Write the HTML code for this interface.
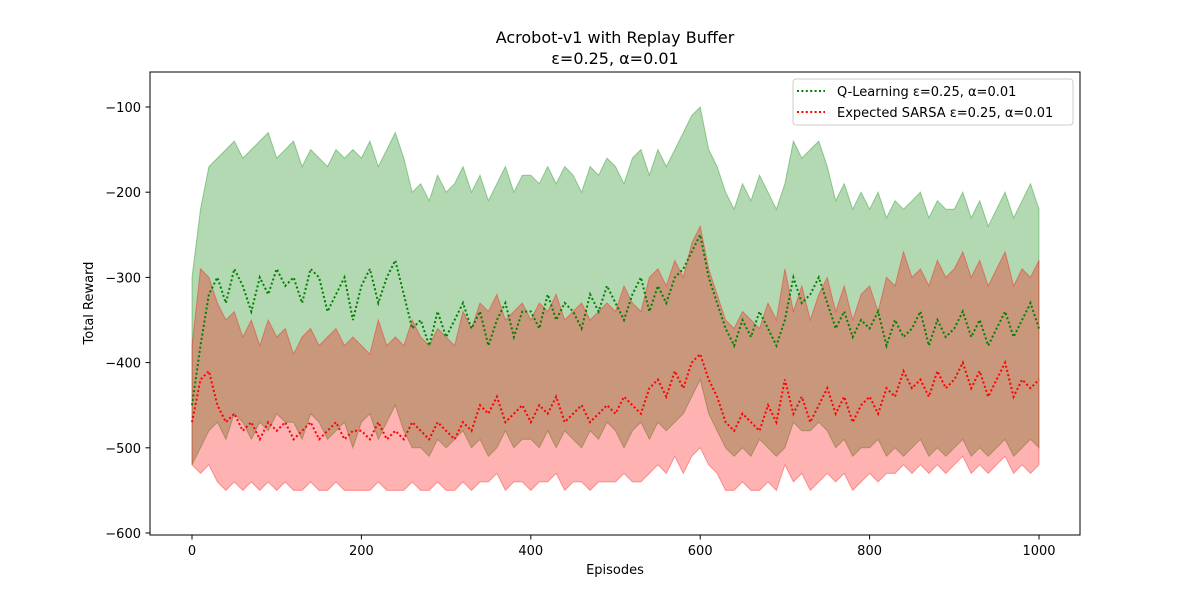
<!DOCTYPE html>
<html><head><meta charset="utf-8"><style>
body{margin:0;background:#fff;}
svg text{font-family:"DejaVu Sans","Liberation Sans",sans-serif;}
</style></head><body>
<svg id="chart" width="1200" height="600" viewBox="0 0 1200 600" xmlns="http://www.w3.org/2000/svg">
<rect width="1200" height="600" fill="#fff"/>
<text x="615" y="43" font-size="16" text-anchor="middle">Acrobot-v1 with Replay Buffer</text>
<text x="615" y="64" font-size="16" text-anchor="middle">ε=0.25, α=0.01</text>
<g id="plot"></g>
<rect x="150" y="72" width="930" height="463" fill="none" stroke="#000" stroke-width="1"/>
<g id="axes"></g>
<text x="615" y="574" font-size="13" text-anchor="middle">Episodes</text>
<text x="93" y="303" font-size="13" text-anchor="middle" transform="rotate(-90 93 303)">Total Reward</text>
<g>
<rect x="793" y="79" width="280" height="46" rx="3" fill="#fff" fill-opacity="0.8" stroke="#ccc"/>
<line x1="797" y1="91" x2="825" y2="91" stroke="green" stroke-width="2" stroke-dasharray="2,2.4"/>
<text x="837" y="96" font-size="13">Q-Learning ε=0.25, α=0.01</text>
<line x1="797" y1="112" x2="825" y2="112" stroke="red" stroke-width="2" stroke-dasharray="2,2.4"/>
<text x="837" y="117" font-size="13">Expected SARSA ε=0.25, α=0.01</text>
</g>
</svg>
<script>
const episodes = [];
for (let i = 0; i <= 100; i++) episodes.push(i * 10);
const xTicks = [0, 200, 400, 600, 800, 1000];
const yTicks = [-600, -500, -400, -300, -200, -100];
const gMean = [-450,-380,-320,-300,-330,-290,-310,-340,-300,-320,
-290,-310,-300,-330,-290,-300,-340,-320,-300,-350,
-310,-290,-330,-300,-280,-320,-360,-350,-380,-340,
-370,-350,-330,-360,-340,-380,-350,-330,-370,-340,
-340,-360,-320,-350,-330,-340,-360,-320,-340,-310,
-330,-350,-320,-300,-340,-310,-330,-300,-290,-270,
-250,-300,-330,-360,-380,-350,-370,-340,-360,-380,
-350,-300,-330,-320,-300,-330,-360,-340,-370,-350,
-360,-340,-380,-350,-370,-360,-340,-380,-350,-370,
-360,-340,-370,-350,-380,-360,-340,-370,-350,-330,-360];
const gHi = [-300,-220,-170,-160,-150,-140,-160,-150,-140,-130,
-160,-150,-140,-170,-150,-160,-170,-150,-160,-150,
-160,-140,-170,-150,-130,-160,-200,-190,-210,-180,
-200,-190,-170,-200,-180,-210,-190,-170,-200,-180,
-180,-190,-170,-190,-170,-180,-200,-170,-180,-160,
-170,-190,-160,-150,-180,-150,-170,-150,-130,-110,
-100,-150,-170,-200,-220,-190,-210,-180,-200,-220,
-190,-140,-160,-150,-140,-170,-210,-190,-220,-200,
-220,-200,-230,-210,-220,-210,-200,-230,-210,-220,
-220,-200,-230,-210,-240,-220,-200,-230,-210,-190,-220];
const gLo = [-520,-500,-480,-470,-490,-460,-470,-490,-470,-480,
-460,-470,-470,-490,-460,-470,-490,-480,-470,-500,
-470,-460,-490,-470,-450,-480,-500,-500,-510,-490,
-500,-490,-480,-500,-490,-510,-500,-480,-500,-490,
-490,-500,-480,-500,-480,-490,-500,-480,-490,-470,
-480,-500,-480,-470,-490,-470,-480,-470,-460,-440,
-420,-460,-480,-500,-510,-500,-510,-490,-500,-510,
-500,-470,-480,-480,-470,-480,-500,-490,-510,-500,
-500,-490,-510,-500,-510,-500,-490,-510,-500,-510,
-500,-490,-510,-500,-510,-500,-490,-510,-500,-490,-500];
const rMean = [-470,-420,-410,-450,-470,-460,-480,-470,-490,-470,
-480,-470,-490,-480,-470,-490,-480,-470,-490,-480,
-480,-490,-470,-490,-480,-490,-470,-480,-490,-470,
-480,-490,-470,-480,-450,-460,-440,-470,-460,-450,
-470,-450,-460,-440,-470,-460,-450,-470,-460,-450,
-460,-440,-450,-460,-430,-420,-440,-410,-430,-400,
-390,-420,-440,-470,-480,-460,-470,-480,-450,-470,
-420,-460,-440,-470,-450,-430,-460,-440,-470,-450,
-440,-460,-430,-440,-410,-430,-420,-440,-410,-430,
-420,-400,-430,-410,-440,-420,-400,-440,-420,-430,-420];
const rHi = [-380,-290,-300,-330,-350,-340,-370,-350,-380,-350,
-370,-360,-390,-370,-360,-380,-370,-360,-380,-370,
-380,-390,-350,-380,-370,-380,-350,-370,-380,-360,
-370,-380,-340,-360,-330,-340,-320,-350,-340,-330,
-350,-330,-340,-320,-350,-340,-330,-350,-340,-330,
-340,-310,-330,-340,-300,-290,-310,-280,-300,-260,
-240,-290,-320,-350,-360,-340,-350,-360,-330,-350,
-290,-340,-310,-350,-320,-300,-340,-310,-350,-320,
-310,-340,-300,-310,-270,-300,-290,-310,-280,-300,
-290,-270,-300,-280,-310,-290,-270,-310,-290,-300,-280];
const rLo = [-520,-530,-520,-540,-550,-540,-550,-540,-550,-540,
-550,-540,-550,-550,-540,-550,-550,-540,-550,-550,
-550,-550,-540,-550,-550,-550,-540,-550,-550,-540,
-550,-550,-540,-550,-540,-540,-530,-550,-540,-540,
-550,-540,-540,-530,-550,-540,-540,-550,-540,-540,
-540,-530,-540,-540,-530,-520,-530,-510,-530,-510,
-500,-520,-530,-550,-550,-540,-550,-550,-540,-550,
-520,-540,-530,-550,-540,-530,-540,-530,-550,-540,
-530,-540,-530,-530,-520,-530,-520,-530,-520,-530,
-520,-510,-530,-520,-530,-520,-510,-530,-520,-530,-520];

const NS = "http://www.w3.org/2000/svg";
function xs(v){ return 192 + (v - 0) * (1039 - 192) / 1000; }
function ys(v){ return 107 + (-100 - v) * (533 - 107) / 500; }
const plot = document.getElementById('plot');
const axes = document.getElementById('axes');

function band(lo, hi, fill, stroke, name){
  let d = '';
  episodes.forEach((e,i)=>{ d += (i?'L':'M') + xs(e).toFixed(1) + ',' + ys(hi[i]).toFixed(1); });
  for (let i = episodes.length-1; i >= 0; i--) d += 'L' + xs(episodes[i]).toFixed(1) + ',' + ys(lo[i]).toFixed(1);
  d += 'Z';
  const p = document.createElementNS(NS,'path');
  p.setAttribute('d', d);
  p.setAttribute('fill', fill);
  p.setAttribute('fill-opacity', '0.3');
  p.setAttribute('stroke', stroke);
  p.setAttribute('stroke-opacity', '0.35');
  p.setAttribute('stroke-width', '1');
  
  
  plot.appendChild(p);
}
function line(vals, color, name){
  const p = document.createElementNS(NS,'polyline');
  p.setAttribute('points', episodes.map((e,i)=>xs(e).toFixed(1)+','+ys(vals[i]).toFixed(1)).join(' '));
  p.setAttribute('fill', 'none');
  p.setAttribute('stroke', color);
  p.setAttribute('stroke-width', '2');
  p.setAttribute('stroke-dasharray', '2,2.4');
  
  
  plot.appendChild(p);
}
band(gLo, gHi, 'green', 'green', 'q-learning-band');
band(rLo, rHi, 'red', 'red', 'sarsa-band');
line(gMean, 'green', 'q-learning-line');
line(rMean, 'red', 'sarsa-line');

xTicks.forEach(t=>{
  const l = document.createElementNS(NS,'line');
  l.setAttribute('x1', xs(t)); l.setAttribute('x2', xs(t));
  l.setAttribute('y1', 535); l.setAttribute('y2', 539.5);
  l.setAttribute('stroke', '#000');
  
  
  axes.appendChild(l);
  const tx = document.createElementNS(NS,'text');
  tx.setAttribute('x', xs(t)); tx.setAttribute('y', 555);
  tx.setAttribute('font-size', '13'); tx.setAttribute('text-anchor', 'middle');
  tx.textContent = t;
  
  
  axes.appendChild(tx);
});
yTicks.forEach(t=>{
  const l = document.createElementNS(NS,'line');
  l.setAttribute('x1', 145.5); l.setAttribute('x2', 150);
  l.setAttribute('y1', ys(t)); l.setAttribute('y2', ys(t));
  l.setAttribute('stroke', '#000');
  
  
  axes.appendChild(l);
  const tx = document.createElementNS(NS,'text');
  tx.setAttribute('x', 141); tx.setAttribute('y', ys(t) + 5);
  tx.setAttribute('font-size', '13'); tx.setAttribute('text-anchor', 'end');
  tx.textContent = '\u2212' + Math.abs(t);
  
  
  axes.appendChild(tx);
});
</script>
</body></html>
